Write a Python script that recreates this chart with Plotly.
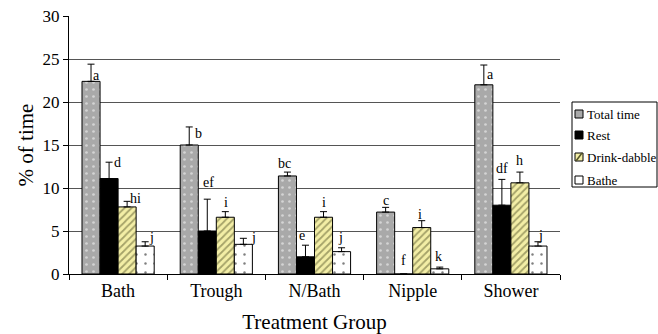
import plotly.graph_objects as go

# Treatment groups and behaviour series (% of time, mean and upper SE)
groups = ["Bath", "Trough", "N/Bath", "Nipple", "Shower"]
series_names = ["Total time", "Rest", "Drink-dabble", "Bathe"]

total_time = [22.4, 15.0, 11.4, 7.2, 22.0]
total_time_err = [2.0, 2.1, 0.45, 0.55, 2.3]
rest = [11.1, 5.0, 2.0, 0.0, 8.0]
rest_err = [1.9, 3.7, 1.35, 0.0, 3.0]
drink_dabble = [7.8, 6.6, 6.6, 5.4, 10.6]
drink_dabble_err = [0.65, 0.65, 0.65, 0.8, 1.25]
bathe = [3.25, 3.45, 2.6, 0.6, 3.25]
bathe_err = [0.5, 0.7, 0.45, 0.2, 0.5]

# Significance letters per series, per group
total_time_letters = ["a", "b", "bc", "c", "a"]
rest_letters = ["d", "ef", "e", "f", "df"]
drink_dabble_letters = ["hi", "i", "i", "i", "h"]
bathe_letters = ["j", "j", "j", "k", "j"]

values = [total_time, rest, drink_dabble, bathe]
errors = [total_time_err, rest_err, drink_dabble_err, bathe_err]
letters = [total_time_letters, rest_letters, drink_dabble_letters, bathe_letters]

# Styling
FONT = "Liberation Serif"
styles = [
    dict(color="#a9a9a9", pattern=dict(shape=".", fgcolor="white", bgcolor="#a9a9a9",
                                       size=7, solidity=0.12, fillmode="overlay")),
    dict(color="black"),
    dict(color="#f3eea6", pattern=dict(shape="/", fgcolor="#55552a", bgcolor="#f3eea6",
                                       size=5, solidity=0.35, fillmode="overlay")),
    dict(color="white", pattern=dict(shape=".", fgcolor="black", bgcolor="white",
                                     size=9, solidity=0.06, fillmode="overlay")),
]
BARGAP = 0.265

# Letter offsets in pixels (dx right, dy up) relative to bar centre / error cap
label_dx = [[5, 9, -3, 0, 7], [8, 1, -3, 0, 0], [8, 1, 0, -2, 0], [6, 10, -1, -1, 3]]
label_dy = [[-11, -7, 9, 7, -9], [0, 17, 10, 14, 11], [3, 9, 9, 6, 12], [4, 1, 10, 11, 6]]

fig = go.Figure()
for name, vals, errs, st in zip(series_names, values, errors, styles):
    marker = dict(color=st["color"], line=dict(color="black", width=1))
    if "pattern" in st:
        marker["pattern"] = st["pattern"]
    fig.add_trace(go.Bar(
        name=name, x=groups, y=vals, marker=marker,
        error_y=dict(type="data", array=errs, arrayminus=[0] * len(errs),
                     symmetric=False, color="black", thickness=1, width=3.5),
        showlegend=False,
    ))

# Letter annotations above each bar
bar_w = (1 - BARGAP) / len(series_names)
annotations = []
for s in range(len(series_names)):
    for g in range(len(groups)):
        xc = g + (s - (len(series_names) - 1) / 2) * bar_w
        annotations.append(dict(
            x=xc, y=values[s][g] + errors[s][g], xref="x", yref="y",
            text=letters[s][g], showarrow=False,
            xshift=label_dx[s][g], yshift=label_dy[s][g],
            xanchor="center", yanchor="middle",
            font=dict(family=FONT, size=14, color="black"),
        ))

# Hand-drawn legend box in pixel space
W, H = 658, 334
ML, MR, MT, MB = 69, 98, 16, 60
pw, ph = W - ML - MR, H - MT - MB


def px(xp):
    return (xp - ML) / pw


def py(yp):
    return (H - MB - yp) / ph


shapes = [dict(type="rect", xref="paper", yref="paper",
               x0=px(572), x1=px(657), y0=py(187), y1=py(102),
               line=dict(color="black", width=1), fillcolor="white", layer="above")]
legend_y = [114, 135, 157, 180]
swatch_fill = ["#a9a9a9", "black", "#f3eea6", "white"]
for name, yc, fill in zip(series_names, legend_y, swatch_fill):
    shapes.append(dict(type="rect", xref="paper", yref="paper",
                       x0=px(575), x1=px(583), y0=py(yc + 4), y1=py(yc - 4),
                       line=dict(color="black", width=1), fillcolor=fill, layer="above"))
    annotations.append(dict(x=px(585), y=py(yc), xref="paper", yref="paper",
                            text=name, showarrow=False, xanchor="left", yanchor="middle",
                            font=dict(family=FONT, size=13, color="black")))
# diagonal stripe on the drink-dabble swatch
shapes.append(dict(type="line", xref="paper", yref="paper",
                   x0=px(576), x1=px(582), y0=py(161), y1=py(153),
                   line=dict(color="#55552a", width=1.5), layer="above"))

fig.update_layout(
    width=W, height=H,
    margin=dict(l=ML, r=MR, t=MT, b=MB),
    paper_bgcolor="white", plot_bgcolor="white",
    barmode="group", bargap=BARGAP, bargroupgap=0,
    font=dict(family=FONT, color="black"),
    annotations=annotations, shapes=shapes,
    xaxis=dict(
        type="category", tickson="boundaries", ticks="outside", ticklen=5,
        tickcolor="black", showline=True, linecolor="black", linewidth=1,
        tickfont=dict(family=FONT, size=18), showgrid=False, automargin=False,
        title=dict(text="Treatment Group", font=dict(family=FONT, size=21), standoff=14),
    ),
    yaxis=dict(
        range=[0, 30], tickvals=[0, 5, 10, 15, 20, 25, 30], ticks="outside", ticklen=5,
        tickcolor="black", showline=True, linecolor="black", linewidth=1,
        showgrid=True, gridcolor="#555555", gridwidth=1, zeroline=False, automargin=False,
        tickfont=dict(family=FONT, size=17),
        title=dict(text="% of time", font=dict(family=FONT, size=21), standoff=3),
    ),
)

fig.write_html("out.html")
